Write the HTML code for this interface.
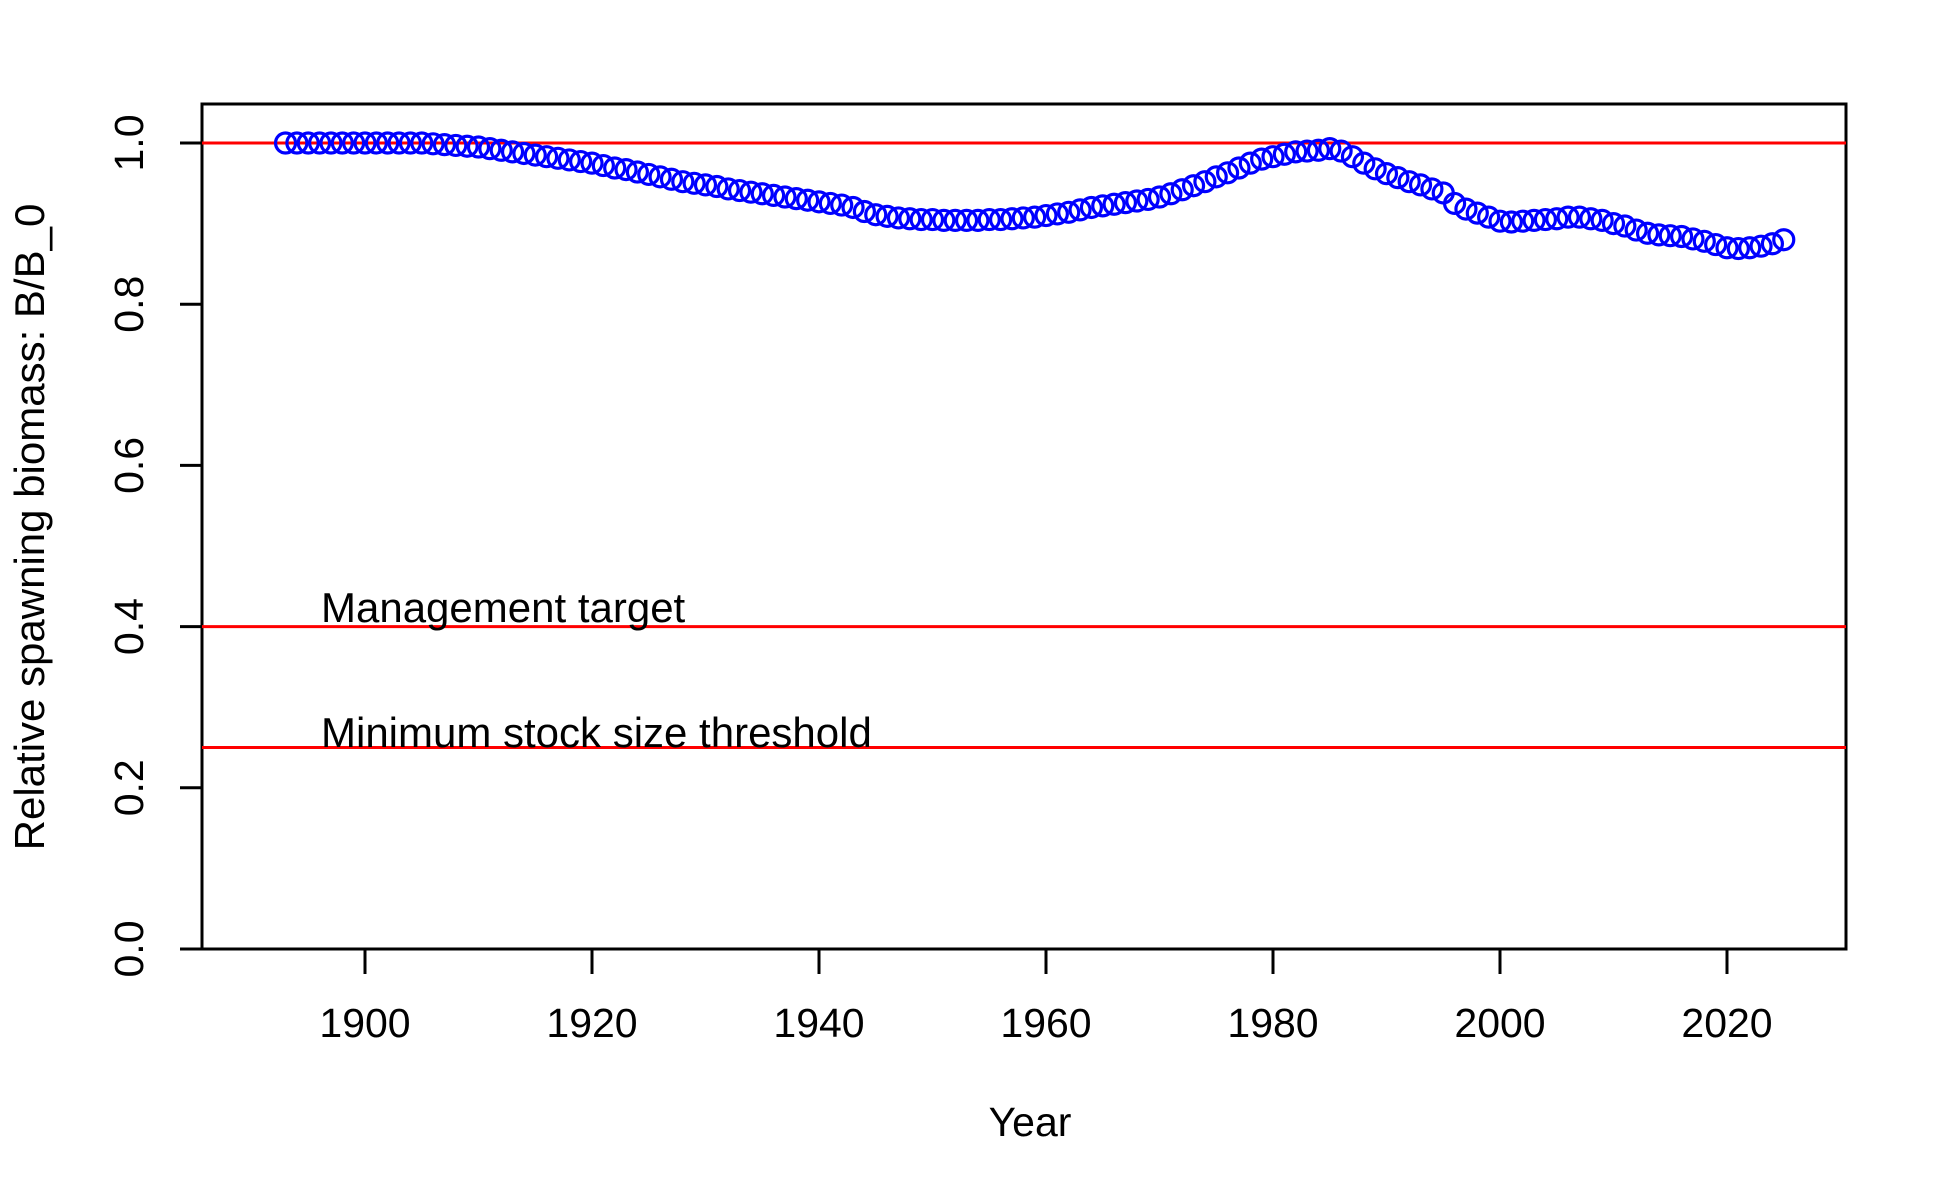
<!DOCTYPE html>
<html><head><meta charset="utf-8"><style>
body{margin:0;background:#fff}
svg{display:block;font-family:"Liberation Sans",Arial,sans-serif}
</style></head><body>
<svg id="chart" width="1950" height="1200" viewBox="0 0 1950 1200">
<rect x="202" y="104" width="1644" height="845" fill="none" stroke="#000" stroke-width="3"/>
<g id="axes"></g>
<g id="reflines"></g>
<g id="points"></g>
<text x="1030" y="1136" font-size="41" text-anchor="middle">Year</text>
<text transform="translate(44,527) rotate(-90)" font-size="42" text-anchor="middle">Relative spawning biomass: B/B_0</text>
<text x="321" y="622" font-size="42">Management target</text>
<text x="321" y="747" font-size="42">Minimum stock size threshold</text>
</svg>
<script>
const startYear = 1893;
const biomass = [1,1,1,1,1,1,1,1,1,1,1,1,1,0.999,
.998,.997,.996,.995,.993,.991,.989,.987,.985,.983,.981,.979,.977,
.975,.972,.969,.967,.964,.961,.958,.955,.952,.950,
.948,.946,.943,.941,.939,.937,.935,.933,.931,.929,
.927,.925,.923,.920,.915,.911,.909,.907,.906,.905,
.905,.904,.904,.904,.904,.905,.905,.906,.907,.908,
.910,.912,.914,.917,.920,.922,.924,.926,.928,.930,
.933,.937,.942,.947,.952,.958,.963,.969,.975,.980,
.983,.986,.989,.990,.991,.993,.990,.983,.975,.968,
.962,.957,.952,.948,.943,.938,.925,.918,.913,.908,
.903,.902,.903,.904,.905,.906,.908,.908,.906,.904,
.900,.897,.892,.888,.886,.885,.884,.881,.878,.874,
.870,.869,.870,.872,.875,.880];
const xTicks = [1900,1920,1940,1960,1980,2000,2020];
const yTicks = [0.0,0.2,0.4,0.6,0.8,1.0];
const refLevels = [1.0,0.4,0.25];

const NS="http://www.w3.org/2000/svg";
const X = y => 365 + (y-1900)*(1727-365)/120;
const Y = v => 949 - v*806;
function mk(tag, attrs, parent){const e=document.createElementNS(NS,tag);for(const k in attrs)e.setAttribute(k,attrs[k]);parent.appendChild(e);return e;}
const axes=document.getElementById('axes');
xTicks.forEach(t=>{
  const l=mk('line',{x1:X(t),x2:X(t),y1:949,y2:974,stroke:'#000','stroke-width':3},axes);
  
  
  const tx=mk('text',{x:X(t),y:1037,'font-size':41,'text-anchor':'middle'},axes);
  tx.textContent=t;
  
  
});
yTicks.forEach(t=>{
  const l=mk('line',{x1:180,x2:202,y1:Y(t),y2:Y(t),stroke:'#000','stroke-width':3},axes);
  
  
  const tx=mk('text',{transform:`translate(143,${Y(t)}) rotate(-90)`,'font-size':41,'text-anchor':'middle'},axes);
  tx.textContent=t.toFixed(1);
  
  
});
const rl=document.getElementById('reflines');
refLevels.forEach(v=>{
  const l=mk('line',{x1:202,x2:1846,y1:Y(v),y2:Y(v),stroke:'#ff0000','stroke-width':3},rl);
  
  
});
const pts=document.getElementById('points');
biomass.forEach((v,i)=>{
  const c=mk('circle',{cx:X(startYear+i),cy:Y(v),r:10,fill:'none',stroke:'#0000ff','stroke-width':3.2},pts);
  
  
});
</script>
</body></html>
